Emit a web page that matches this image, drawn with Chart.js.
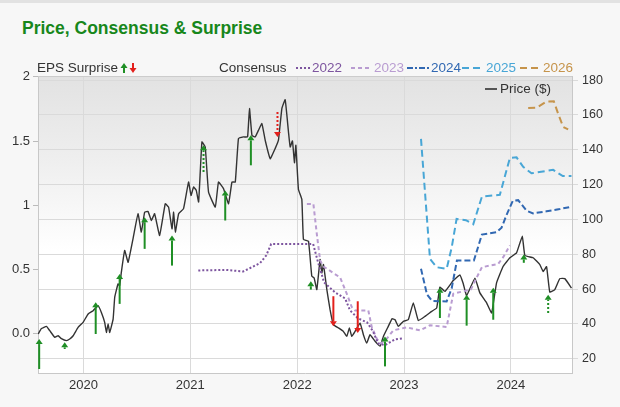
<!DOCTYPE html>
<html>
<head>
<meta charset="utf-8">
<title>Price, Consensus &amp; Surprise</title>
<script src="https://cdn.jsdelivr.net/npm/chart.js@4.4.1/dist/chart.umd.min.js"></script>
<style>
    html, body { margin: 0; padding: 0; }
    body {
        width: 620px; height: 407px; overflow: hidden; position: relative;
        background: #f7f7f7;
        font-family: "Liberation Sans", Arial, sans-serif;
    }
    #frame {
        position: absolute; left: 0; top: 0; width: 620px; height: 407px;
        border-top: 3px solid #e2e2e2; box-sizing: border-box;
    }
    #title {
        position: absolute; left: 22px; top: 18px; margin: 0;
        font-size: 17.5px; line-height: 20px; font-weight: bold; color: #17871b;
    }
    #wrap { position: absolute; left: 0; top: 0; width: 620px; height: 407px; }
</style>
</head>
<body>
<div id="frame"></div>
<h1 id="title">Price, Consensus &amp; Surprise</h1>
<div id="wrap"><canvas id="chart" width="620" height="407"></canvas></div>
<script>
// share price, decimal year / dollars
var priceYear = [2019.577, 2019.607, 2019.654, 2019.685, 2019.732, 2019.764, 2019.794, 2019.841, 2019.872, 2019.904,
    2019.950, 2019.997, 2020.044, 2020.091, 2020.137, 2020.168, 2020.199, 2020.215, 2020.231, 2020.246,
    2020.278, 2020.293, 2020.324, 2020.339, 2020.355, 2020.386, 2020.418, 2020.464, 2020.511, 2020.542,
    2020.573, 2020.605, 2020.636, 2020.666, 2020.713, 2020.766, 2020.797, 2020.829, 2020.844, 2020.860,
    2020.891, 2020.937, 2020.984, 2021.007, 2021.031, 2021.056, 2021.078, 2021.109, 2021.140, 2021.171,
    2021.234, 2021.264, 2021.311, 2021.358, 2021.390, 2021.421, 2021.451, 2021.498, 2021.536, 2021.554,
    2021.577, 2021.607, 2021.638, 2021.670, 2021.701, 2021.748, 2021.794, 2021.825, 2021.857, 2021.888,
    2021.919, 2021.935, 2021.956, 2021.975, 2021.988, 2022.012, 2022.044, 2022.059, 2022.106, 2022.137,
    2022.159, 2022.184, 2022.215, 2022.231, 2022.246, 2022.278, 2022.308, 2022.339, 2022.386, 2022.433,
    2022.464, 2022.489, 2022.511, 2022.542, 2022.589, 2022.620, 2022.651, 2022.682, 2022.729, 2022.776,
    2022.807, 2022.853, 2022.888, 2022.916, 2022.947, 2022.994, 2023.040, 2023.087, 2023.134, 2023.196,
    2023.259, 2023.306, 2023.336, 2023.383, 2023.461, 2023.523, 2023.554, 2023.586, 2023.664, 2023.710,
    2023.773, 2023.820, 2023.866, 2023.928, 2023.991, 2024.053, 2024.107, 2024.131, 2024.208, 2024.271,
    2024.302, 2024.334, 2024.364, 2024.411, 2024.458, 2024.505, 2024.567];
var priceValue = [34.2, 37.3, 38.6, 36.1, 32.3, 33.2, 31.5, 30.4, 31.3, 33.2,
    38.0, 40.9, 45.7, 47.6, 50.5, 46.6, 40.9, 35.1, 40.0, 35.1,
    42.8, 55.3, 63.0, 62.0, 69.7, 82.2, 75.4, 88.9, 103.3, 92.7,
    104.2, 104.6, 99.4, 103.3, 90.8, 109.0, 107.1, 94.6, 104.2, 92.7,
    103.3, 106.2, 121.5, 113.8, 118.6, 116.7, 110.0, 144.5, 141.6, 115.7,
    107.1, 121.5, 117.7, 109.0, 121.5, 121.5, 146.4, 147.4, 147.4, 163.7,
    148.3, 147.4, 151.2, 155.1, 145.5, 134.9, 140.7, 145.5, 163.7, 168.8,
    150.2, 141.6, 145.1, 132.6, 142.6, 117.3, 111.5, 88.5, 87.5, 67.4,
    66.4, 59.7, 77.0, 69.3, 74.1, 59.7, 48.2, 39.6, 37.7, 35.7,
    32.8, 37.7, 32.8, 35.7, 40.5, 33.8, 29.0, 33.8, 30.0, 27.2,
    32.8, 38.6, 43.0, 42.4, 38.6, 41.5, 42.4, 52.1, 41.9, 44.3,
    47.2, 49.2, 61.1, 58.7, 64.9, 68.1, 63.2, 56.3, 66.3, 57.8,
    52.1, 46.3, 63.6, 73.1, 78.0, 80.8, 90.4, 79.3, 78.0, 74.1,
    70.1, 72.9, 58.3, 59.7, 66.0, 66.0, 60.6];

// consensus EPS by fiscal year
var consNames = ["2022", "2023", "2024", "2025", "2026"];
var cons2022Year = [2021.075, 2021.336, 2021.495, 2021.561, 2021.654, 2021.710, 2021.757, 2022.150, 2022.196, 2022.252,
    2022.355, 2022.449, 2022.495, 2022.570, 2022.654, 2022.710, 2022.757, 2022.822, 2022.916, 2022.991];
var cons2022 = [0.493, 0.497, 0.485, 0.512, 0.551, 0.609, 0.698, 0.698, 0.555, 0.400,
    0.322, 0.275, 0.182, 0.120, 0.089, 0.019, -0.074, -0.089, -0.043, -0.035];
var cons2023Year = [2022.091, 2022.152, 2022.184, 2022.215, 2022.246, 2022.402, 2022.464, 2022.511, 2022.542, 2022.666,
    2022.698, 2022.748, 2022.785, 2022.841, 2022.900, 2023.025, 2023.150, 2023.243, 2023.399, 2023.461,
    2023.586, 2023.626, 2023.682, 2023.729, 2023.804, 2023.881, 2023.928, 2023.991];
var cons2023 = [1.010, 1.010, 0.777, 0.570, 0.524, 0.438, 0.312, 0.208, 0.182, 0.182,
    0.053, -0.043, -0.074, -0.035, 0.027, 0.050, 0.027, 0.066, 0.053, 0.312,
    0.337, 0.345, 0.441, 0.518, 0.531, 0.543, 0.596, 0.687];
var cons2024Year = [2023.159, 2023.215, 2023.262, 2023.399, 2023.446, 2023.495, 2023.654, 2023.729, 2023.866, 2023.913,
    2023.963, 2024.019, 2024.068, 2024.147, 2024.208, 2024.334, 2024.458, 2024.567];
var cons2024 = [0.506, 0.306, 0.256, 0.252, 0.353, 0.570, 0.570, 0.772, 0.790, 0.826,
    0.932, 1.036, 1.040, 0.958, 0.937, 0.953, 0.971, 0.989];
var cons2025Year = [2023.159, 2023.243, 2023.306, 2023.399, 2023.446, 2023.492, 2023.579, 2023.648, 2023.729, 2023.897,
    2023.991, 2024.053, 2024.115, 2024.193, 2024.395, 2024.486, 2024.567];
var cons2025 = [1.517, 0.583, 0.518, 0.506, 0.671, 0.894, 0.884, 0.853, 1.067, 1.082,
    1.369, 1.373, 1.299, 1.249, 1.276, 1.227, 1.227];
var cons2026Year = [2024.162, 2024.243, 2024.334, 2024.402, 2024.442, 2024.489, 2024.536];
var cons2026 = [1.757, 1.760, 1.808, 1.809, 1.713, 1.610, 1.590];

// EPS surprise arrows, drawn on the price scale (from -> to)
var surpriseYear = [2019.586, 2019.825, 2020.115, 2020.339, 2020.573, 2020.829, 2021.124, 2021.327, 2021.567, 2021.816,
    2022.128, 2022.339, 2022.567, 2022.822, 2023.336, 2023.586, 2023.835, 2024.121, 2024.349];
var surpriseFrom = [14.1, 25.6, 34.2, 51.5, 83.1, 73.5, 127.2, 99.4, 131.1, 161.7,
    59.7, 55.9, 53.0, 15.6, 43.4, 39.0, 42.4, 75.1, 46.3];
var surpriseTo = [31.3, 29.4, 52.4, 68.7, 101.3, 90.8, 142.6, 116.7, 148.3, 147.4,
    64.5, 38.6, 34.8, 32.8, 60.7, 56.8, 60.7, 79.9, 56.8];
var surpriseDotted = [false, true, false, false, false, false, true, false, false, true,
    false, false, false, false, false, false, false, false, true];

var consColors = ["#7d559f", "#b99cd1", "#3168b2", "#48a6d6", "#c6944b"];
var consDash = [[2, 2], [4, 3], [6, 3], [7, 4], [7, 4]];
var GREEN = "#1f8f25", RED = "#e3201c";
var FONT = '"Liberation Sans", Arial, sans-serif';

function pts(xs, ys) {
    return xs.map(function (x, i) { return {x: x, y: ys[i]}; });
}

function arrow(c, x, y0, y1, color, dotted) {
    var up = y1 < y0;
    var hh = 5, hw = 3.5;
    var yb = up ? y1 + hh : y1 - hh;
    c.strokeStyle = color;
    c.fillStyle = color;
    c.lineWidth = 2;
    c.setLineDash(dotted ? [2, 2] : []);
    c.beginPath();
    c.moveTo(x, y0);
    c.lineTo(x, yb);
    c.stroke();
    c.setLineDash([]);
    c.beginPath();
    c.moveTo(x, y1);
    c.lineTo(x - hw, yb);
    c.lineTo(x + hw, yb);
    c.closePath();
    c.fill();
}

var plotBg = {
    id: "plotBg",
    beforeDatasetsDraw: function (chart) {
        var a = chart.chartArea, c = chart.ctx;
        c.save();
        var g = c.createLinearGradient(0, a.top, 0, a.top + 175);
        g.addColorStop(0, "#e2e2e2");
        g.addColorStop(0.5, "#efefef");
        g.addColorStop(1, "#ffffff");
        c.globalCompositeOperation = "destination-over";
        c.fillStyle = g;
        c.fillRect(a.left, a.top, a.right - a.left, a.bottom - a.top);
        c.restore();
        c.save();
        c.strokeStyle = "#cccccc";
        c.lineWidth = 1;
        c.beginPath();
        c.moveTo(a.left, a.top + 0.5);
        c.lineTo(a.right, a.top + 0.5);
        c.stroke();
        c.restore();
    }
};

var surprises = {
    id: "surprises",
    afterDatasetsDraw: function (chart) {
        var c = chart.ctx, xs = chart.scales.x, ys = chart.scales.price;
        c.save();
        for (var i = 0; i < surpriseYear.length; i++) {
            var x = xs.getPixelForValue(surpriseYear[i]);
            var y0 = ys.getPixelForValue(surpriseFrom[i]);
            var y1 = ys.getPixelForValue(surpriseTo[i]);
            arrow(c, x, y0, y1, surpriseTo[i] > surpriseFrom[i] ? GREEN : RED, surpriseDotted[i]);
        }
        c.restore();
    }
};

var legendTop = {
    id: "legendTop",
    afterDraw: function (chart) {
        var c = chart.ctx, y = 68;
        c.save();
        c.font = "13.5px " + FONT;
        c.textBaseline = "middle";
        c.fillStyle = "#333";
        c.fillText("EPS Surprise", 37, y);
        arrow(c, 124, 73, 63, GREEN, false);
        arrow(c, 133, 63, 73, RED, false);
        c.fillStyle = "#333";
        c.fillText("Consensus", 219, y);
        var mx = [296, 351, 407, 462, 520], ml = [14, 21, 22, 22, 21], tx = [312, 374, 431, 486, 543];
        for (var i = 0; i < consNames.length; i++) {
            c.strokeStyle = consColors[i];
            c.lineWidth = 2;
            c.setLineDash(i == 2 ? [6, 2, 2, 2] : consDash[i]);
            c.beginPath();
            c.moveTo(mx[i], y);
            c.lineTo(mx[i] + ml[i], y);
            c.stroke();
            c.setLineDash([]);
            c.fillStyle = consColors[i];
            c.fillText(consNames[i], tx[i], y);
        }
        // price legend inside the plot
        c.strokeStyle = "#555";
        c.lineWidth = 2;
        c.beginPath();
        c.moveTo(485, 89);
        c.lineTo(497, 89);
        c.stroke();
        c.fillStyle = "#333";
        c.fillText("Price ($)", 500, 89);
        c.restore();
    }
};

var datasets = [];
var consX = [cons2022Year, cons2023Year, cons2024Year, cons2025Year, cons2026Year];
var consY = [cons2022, cons2023, cons2024, cons2025, cons2026];
for (var i = 0; i < consNames.length; i++) {
    datasets.push({
        label: consNames[i],
        data: pts(consX[i], consY[i]),
        yAxisID: "eps",
        borderColor: consColors[i],
        borderWidth: 2,
        borderDash: consDash[i],
        pointRadius: 0,
        tension: 0
    });
}
datasets.push({
    label: "Price ($)",
    data: pts(priceYear, priceValue),
    yAxisID: "price",
    borderColor: "#333333",
    borderWidth: 1.4,
    pointRadius: 0,
    tension: 0.1
});

new Chart(document.getElementById("chart"), {
    type: "line",
    data: {datasets: datasets},
    plugins: [plotBg, surprises, legendTop],
    options: {
        responsive: false,
        animation: false,
        layout: {padding: {top: 76, left: 0, right: 0, bottom: 0}},
        plugins: {legend: {display: false}, tooltip: {enabled: false}},
        scales: {
            x: {
                type: "linear", position: "bottom",
                min: 2019.575, max: 2024.572,
                afterFit: function (s) { s.height = 34; },
                grid: {color: "#dadada", drawTicks: false},
                border: {color: "#c8c8c8"},
                ticks: {
                    stepSize: 1, includeBounds: false, padding: 5, color: "#333",
                    font: {family: FONT, size: 13},
                    callback: function (v) { return String(v); }
                }
            },
            eps: {
                type: "linear", position: "left",
                min: -0.305, max: 2.006,
                afterFit: function (s) { s.width = 38; },
                grid: {drawOnChartArea: false, tickLength: 5, color: "#bbbbbb"},
                border: {color: "#c8c8c8"},
                ticks: {
                    stepSize: 0.5, includeBounds: false, padding: 3, color: "#333",
                    font: {family: FONT, size: 13},
                    callback: function (v) { return v === 0 ? "0.0" : String(v); }
                }
            },
            price: {
                type: "linear", position: "right",
                min: 11.8, max: 182.4,
                afterFit: function (s) { s.width = 48; },
                grid: {color: "#dadada", tickLength: 6},
                border: {color: "#c8c8c8"},
                ticks: {
                    stepSize: 20, includeBounds: false, padding: 4, color: "#333",
                    font: {family: FONT, size: 12.5}
                }
            }
        }
    }
});
</script>
</body>
</html>
